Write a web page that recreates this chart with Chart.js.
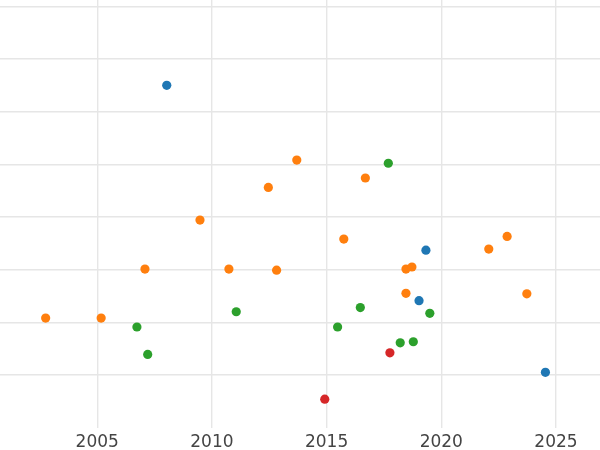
<!DOCTYPE html>
<html>
<head>
<meta charset="utf-8">
<script src="https://cdn.jsdelivr.net/npm/chart.js@4"></script>
<style>
  html, body { margin: 0; padding: 0; background: #fff; }
  #wrap { width: 600px; height: 450px; }
</style>
</head>
<body>
<div id="wrap"><canvas id="scatterChart" width="600" height="450"></canvas></div>
<script>
// data (x = year, y = value in grid units)
var blueX   = [2008.03, 2019.33, 2019.03, 2024.54];
var blueY   = [6.50, 3.37, 2.41, 1.05];

var orangeX = [2013.70, 2012.46, 2009.48, 2016.69, 2007.08, 2010.74, 2012.82, 2002.75,
               2005.17, 2015.75, 2022.87, 2022.07, 2018.46, 2018.72, 2018.46, 2023.73];
var orangeY = [5.08, 4.56, 3.94, 4.74, 3.01, 3.01, 2.99, 2.08,
               2.08, 3.58, 3.63, 3.39, 3.01, 3.05, 2.55, 2.54];

var greenX  = [2017.69, 2006.73, 2007.20, 2011.06, 2016.47, 2019.50, 2015.48, 2018.21, 2018.78];
var greenY  = [5.02, 1.91, 1.39, 2.20, 2.28, 2.17, 1.91, 1.61, 1.63];

var redX    = [2017.76, 2014.92];
var redY    = [1.42, 0.54];

var xTicks = [2005, 2010, 2015, 2020, 2025];
var yTicks = [1, 2, 3, 4, 5, 6, 7, 8];

function toPoints(xs, ys) {
  return xs.map((x, i) => ({ x: x, y: ys[i] }));
}

function makeSet(label, xs, ys, color) {
  return {
    label: label,
    data: toPoints(xs, ys),
    backgroundColor: color,
    borderWidth: 0,
    pointRadius: 4.6,
    pointHoverRadius: 4.6
  };
}

var ctx = document.getElementById('scatterChart').getContext('2d');
var myChart = new Chart(ctx, {
  type: 'scatter',
  data: {
    datasets: [
      makeSet('blue', blueX, blueY, '#1f77b4'),
      makeSet('orange', orangeX, orangeY, '#ff7f0e'),
      makeSet('green', greenX, greenY, '#2ca02c'),
      makeSet('red', redX, redY, '#d62728')
    ]
  },
  options: {
    responsive: false,
    animation: false,
    layout: { padding: { top: 0, left: 0, right: 0, bottom: -8 }, autoPadding: false },
    plugins: {
      legend: { display: false },
      tooltip: { enabled: false }
    },
    scales: {
      x: {
        type: 'linear',
        min: 2000.76,
        max: 2026.92,
        afterBuildTicks: function (axis) {
          axis.ticks = xTicks.map(v => ({ value: v }));
        },
        border: { display: false },
        grid: { color: '#e6e6e6', lineWidth: 1.4, drawTicks: false, tickLength: 0 },
        ticks: {
          padding: 5,
          color: '#444444',
          font: { family: 'DejaVu Sans', size: 17 },
          maxRotation: 0,
          callback: function (value) { return String(value); }
        }
      },
      y: {
        type: 'linear',
        min: 0,
        max: 8.12,
        afterBuildTicks: function (axis) {
          axis.ticks = yTicks.map(v => ({ value: v }));
        },
        border: { display: false },
        grid: { color: '#e6e6e6', lineWidth: 1.4, drawTicks: false, tickLength: 0 },
        ticks: { display: false }
      }
    }
  }
});
</script>
</body>
</html>
